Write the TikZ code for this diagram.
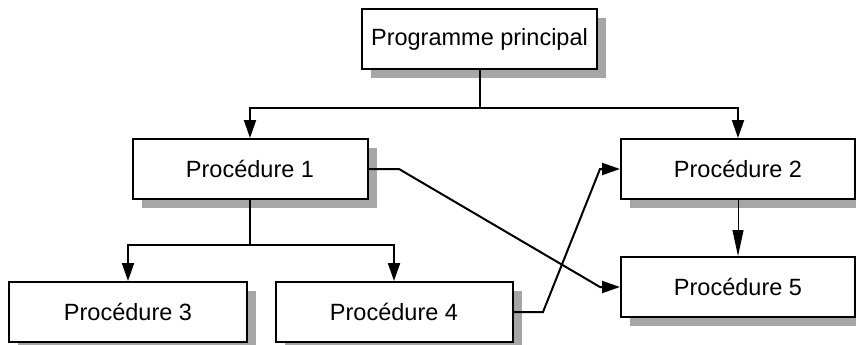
\documentclass[tikz,border=0pt]{standalone}
\usepackage{fontspec}
\setmainfont{Liberation Sans}
\usetikzlibrary{arrows.meta,shadows}
\tikzset{
  box/.style={draw=black,line width=2pt,fill=white,minimum height=60pt,minimum width=235pt,inner sep=0pt,
    font=\fontsize{23.5pt}{28pt}\selectfont,
    drop shadow={shadow xshift=9pt,shadow yshift=-9pt,fill=black!35,opacity=1}},
  conn/.style={draw=black,line width=2pt,-{Triangle[length=18pt,width=12pt]}},
  plain/.style={draw=black,line width=2pt},
  thinconn/.style={draw=black,line width=1pt,-{Triangle[length=26pt,width=11pt]}},
}
\begin{document}
\begin{tikzpicture}[x=1pt,y=1pt]
\useasboundingbox (0,0) rectangle (856,-345);
\node[box] (pp) at (479.5,-39) {Programme principal};
\node[box] (p1) at (250,-169) {Procédure 1};
\node[box,minimum width=234pt] (p2) at (738,-169) {Procédure 2};
\node[box,minimum width=234pt] (p5) at (738,-287) {Procédure 5};
\node[box,minimum width=238pt] (p3) at (128,-312) {Procédure 3};
\node[box,minimum width=237pt] (p4) at (394,-312) {Procédure 4};
\coordinate (j1) at (479.5,-108);
\coordinate (j2) at (250,-245);
\coordinate (b1) at (399,-169);
\coordinate (d1) at (600,-287);
\coordinate (b4) at (543,-312);
\coordinate (d4) at (600,-169);
\draw[plain] (pp.south) -- (j1);
\draw[conn] (j1) -| (p1.north);
\draw[conn] (j1) -| (p2.north);
\draw[plain] (p1.south) -- (j2);
\draw[conn] (j2) -| (p3.north);
\draw[conn] (j2) -| (p4.north);
\draw[conn] (p1.east) -- (b1) -- (d1) -- (p5.west);
\draw[conn] (p4.east) -- (b4) -- (d4) -- (p2.west);
\draw[thinconn] (p2.south) -- (p5.north);
\end{tikzpicture}
\end{document}
